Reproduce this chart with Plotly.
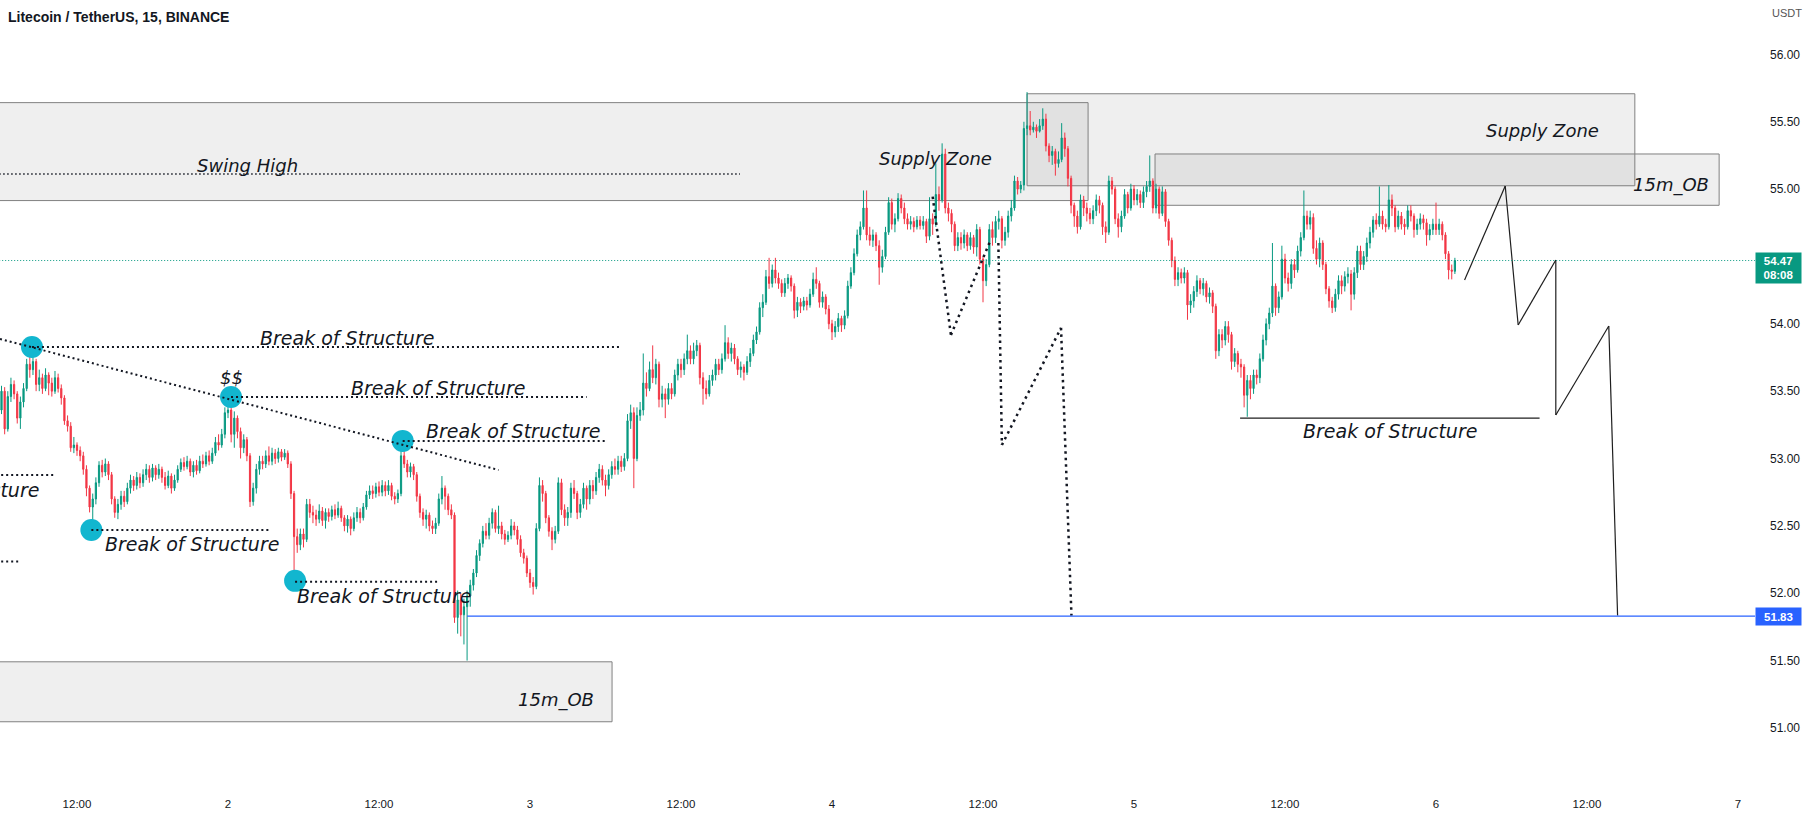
import pandas as pd
import plotly.graph_objects as go

# ---------------- data (15-minute LTC/USDT candles) ----------------
first_open = 53.45
closes = [
    53.52, 53.36,                      # 1 05:30
    53.50, 53.22, 53.46, 53.55,
    53.48, 53.30, 53.42, 53.52,
    53.70, 53.66, 53.72, 53.55,
    53.60, 53.52, 53.62, 53.56,
    53.50, 53.60, 53.52, 53.45,
    53.28, 53.24, 53.08, 53.10,
    53.06, 53.02, 52.92, 52.78,
    52.64, 52.70, 52.82, 52.95,
    52.90, 52.96, 52.88, 52.70,
    52.60, 52.66, 52.72, 52.68,
    52.78, 52.84, 52.80, 52.86,
    52.82, 52.88, 52.92, 52.86,
    52.93, 52.88, 52.92, 52.86,
    52.80, 52.87, 52.78, 52.84,
    52.92, 52.97, 52.94, 52.98,
    52.90, 52.95, 52.91, 52.98,
    52.96, 53.02, 52.98, 53.04,
    53.12, 53.10, 53.18, 53.34,
    53.36, 53.18, 53.30, 53.20,        # 2 00:00
    53.08, 53.14, 53.02, 52.68,
    52.78, 52.92, 52.98, 52.96,
    53.02, 52.98, 53.04, 53.00,
    53.05, 53.01, 53.04, 52.96,
    52.74, 52.42, 52.36, 52.44,
    52.40, 52.66, 52.60, 52.58,
    52.55, 52.61, 52.54, 52.60,
    52.57, 52.62, 52.58, 52.63,
    52.56, 52.50, 52.55, 52.48,
    52.56, 52.60, 52.56, 52.64,
    52.73, 52.76, 52.74, 52.79,
    52.75, 52.80, 52.76, 52.80,        # 2 12:00
    52.72, 52.70, 52.74, 53.02,
    52.96, 52.90, 52.94, 52.88,
    52.72, 52.60, 52.55, 52.58,
    52.50, 52.48, 52.52, 52.70,
    52.78, 52.72, 52.62, 52.58,
    51.82, 51.95, 51.84, 51.90,
    51.98, 52.06, 52.15, 52.28,
    52.37, 52.46, 52.43, 52.52,
    52.60, 52.48, 52.50, 52.44,
    52.40, 52.43, 52.50, 52.47,
    52.40, 52.30, 52.26, 52.15,
    52.08, 52.05, 52.48, 52.80,        # 3 00:00
    52.74, 52.56, 52.46, 52.40,
    52.46, 52.82, 52.62, 52.56,
    52.60, 52.78, 52.74, 52.60,
    52.66, 52.78, 52.70, 52.80,
    52.76, 52.86, 52.92, 52.84,
    52.80, 52.88, 52.94, 52.92,
    52.98, 52.94, 53.00, 53.28,
    53.34, 53.00, 53.32, 53.36,
    53.56, 53.52, 53.66, 53.60,
    53.70, 53.44, 53.48, 53.44,
    53.52, 53.48, 53.62, 53.70,
    53.66, 53.74, 53.80, 53.74,        # 3 12:00
    53.80, 53.84, 53.60, 53.52,
    53.48, 53.58, 53.62, 53.70,
    53.66, 53.74, 53.86, 53.78,
    53.82, 53.74, 53.66, 53.68,
    53.64, 53.72, 53.78, 53.88,
    53.94, 54.12, 54.16, 54.35,
    54.30, 54.40, 54.34, 54.30,
    54.23, 54.30, 54.34, 54.28,
    54.10, 54.16, 54.13, 54.17,
    54.14, 54.22, 54.33, 54.30,
    54.16, 54.20, 54.11, 54.00,
    53.94, 53.98, 54.04, 53.99,        # 4 00:00
    54.06, 54.28, 54.38, 54.52,
    54.66, 54.72, 54.86, 54.66,
    54.62, 54.66, 54.58, 54.42,
    54.50, 54.68, 54.90, 54.74,
    54.78, 54.93, 54.86, 54.78,
    54.74, 54.76, 54.72, 54.77,
    54.73, 54.76, 54.65, 54.78,
    54.74, 54.96, 54.92, 55.26,
    54.86, 54.82, 54.74, 54.58,
    54.64, 54.60, 54.66, 54.58,
    54.64, 54.57, 54.70, 54.48,
    54.32, 54.44, 54.70, 54.64,        # 4 12:00
    54.76, 54.78, 54.62, 54.68,
    54.80, 54.86, 55.06, 55.00,
    55.03, 55.45, 55.47, 55.44,
    55.46, 55.43, 55.47, 55.52,
    55.32, 55.25, 55.28, 55.19,
    55.22, 55.38, 55.30, 55.08,
    54.88, 54.80, 54.72, 54.92,
    54.86, 54.82, 54.78, 54.84,
    54.92, 54.88, 54.72, 54.68,
    55.06, 55.00, 54.78, 54.72,
    54.80, 54.96, 54.86, 55.00,
    54.92, 54.96, 54.90, 54.98,        # 5 00:00
    55.02, 55.06, 54.86, 55.00,
    54.82, 54.98, 54.76, 54.62,
    54.47, 54.33, 54.38, 54.34,
    54.38, 54.14, 54.17, 54.24,
    54.32, 54.26, 54.30, 54.20,
    54.23, 54.13, 53.80, 53.92,
    53.88, 53.98, 53.92, 53.72,
    53.78, 53.70, 53.68, 53.47,
    53.58, 53.52, 53.62, 53.60,
    53.74, 53.88, 54.00, 54.08,
    54.28, 54.12, 54.20, 54.48,
    54.34, 54.30, 54.44, 54.40,        # 5 12:00
    54.54, 54.64, 54.80, 54.74,
    54.79, 54.56, 54.48, 54.60,
    54.44, 54.26, 54.17, 54.12,
    54.22, 54.32, 54.28, 54.35,
    54.37, 54.22, 54.38, 54.54,
    54.44, 54.50, 54.60, 54.68,
    54.77, 54.74, 54.80, 54.74,
    54.72, 54.92, 54.86, 54.72,
    54.80, 54.74, 54.72, 54.84,
    54.80, 54.70, 54.74, 54.78,
    54.75, 54.66, 54.70, 54.74,
    54.70, 54.74, 54.66, 54.52,        # 6 00:00
    54.40, 54.39, 54.47,
]
highs = [
    53.56, 53.55,
    53.54, 53.53, 53.50, 53.60,
    53.58, 53.50, 53.46, 53.56,
    53.74, 53.83, 53.80, 53.74,
    53.66, 53.63, 53.67, 53.64,
    53.60, 53.65, 53.63, 53.55,
    53.47, 53.32, 53.27, 53.16,
    53.12, 53.09, 53.05, 52.95,
    52.80, 52.74, 52.86, 52.98,
    52.99, 53.00, 52.98, 52.90,
    52.72, 52.70, 52.76, 52.76,
    52.82, 52.88, 52.87, 52.90,
    52.89, 52.92, 52.96, 52.95,
    52.96, 52.95, 52.96, 52.94,
    52.90, 52.91, 52.89, 52.88,
    52.95, 53.00, 53.01, 53.02,
    53.00, 52.98, 52.99, 53.02,
    53.03, 53.05, 53.06, 53.08,
    53.16, 53.18, 53.22, 53.38,
    53.46, 53.44, 53.35, 53.32,
    53.23, 53.18, 53.16, 53.04,
    52.82, 52.96, 53.02, 53.02,
    53.06, 53.09, 53.08, 53.07,
    53.08, 53.07, 53.07, 53.06,
    52.98, 52.76, 52.48, 52.48,
    52.48, 52.70, 52.70, 52.65,
    52.62, 52.66, 52.64, 52.63,
    52.63, 52.65, 52.66, 52.68,
    52.65, 52.58, 52.58, 52.57,
    52.60, 52.64, 52.63, 52.67,
    52.76, 52.80, 52.80, 52.82,
    52.83, 52.84, 52.83, 52.84,
    52.82, 52.75, 52.77, 53.13,
    53.10, 52.99, 52.97, 52.96,
    52.90, 52.74, 52.63, 52.62,
    52.60, 52.54, 52.56, 52.74,
    52.87, 52.80, 52.74, 52.66,
    52.60, 52.02, 52.00, 51.96,
    52.02, 52.10, 52.18, 52.32,
    52.40, 52.50, 52.52, 52.56,
    52.63, 52.62, 52.65, 52.53,
    52.47, 52.46, 52.55, 52.53,
    52.50, 52.43, 52.33, 52.28,
    52.18, 52.12, 52.52, 52.86,
    52.84, 52.76, 52.58, 52.49,
    52.50, 52.86, 52.85, 52.66,
    52.64, 52.82, 52.84, 52.76,
    52.70, 52.82, 52.80, 52.84,
    52.84, 52.90, 52.96, 52.95,
    52.88, 52.92, 52.98, 53.00,
    53.02, 53.02, 53.04, 53.33,
    53.40, 53.38, 53.38, 53.42,
    53.78, 53.64, 53.72, 53.84,
    53.74, 53.72, 53.54, 53.52,
    53.56, 53.56, 53.66, 53.74,
    53.74, 53.78, 53.92, 53.84,
    53.86, 53.88, 53.86, 53.64,
    53.58, 53.62, 53.66, 53.74,
    53.74, 53.78, 53.99, 53.90,
    53.86, 53.85, 53.76, 53.72,
    53.70, 53.76, 53.82, 53.92,
    53.98, 54.16, 54.22, 54.40,
    54.49, 54.44, 54.49, 54.38,
    54.33, 54.34, 54.37, 54.36,
    54.30, 54.20, 54.19, 54.20,
    54.20, 54.26, 54.38, 54.42,
    54.32, 54.24, 54.22, 54.14,
    54.03, 54.02, 54.08, 54.06,
    54.10, 54.32, 54.42, 54.56,
    54.70, 54.76, 54.99, 54.99,
    54.72, 54.70, 54.68, 54.62,
    54.55, 54.72, 54.94, 54.93,
    54.82, 54.97, 54.96, 54.90,
    54.82, 54.80, 54.79, 54.80,
    54.80, 54.80, 54.78, 54.94,
    54.82, 55.19, 55.02, 55.34,
    55.30, 54.90, 54.85, 54.76,
    54.68, 54.68, 54.70, 54.68,
    54.68, 54.66, 54.74, 54.72,
    54.50, 54.48, 54.74, 54.76,
    54.80, 54.84, 54.80, 54.72,
    54.84, 54.92, 55.10, 55.09,
    55.06, 55.50, 55.72, 55.58,
    55.50, 55.48, 55.52, 55.60,
    55.56, 55.34, 55.32, 55.30,
    55.28, 55.49, 55.42, 55.32,
    55.10, 54.90, 54.84, 54.96,
    54.95, 54.90, 54.86, 54.88,
    54.96, 54.95, 54.90, 54.76,
    55.10, 55.09, 55.02, 54.82,
    54.84, 55.00, 54.98, 55.04,
    55.03, 55.00, 54.99, 55.02,
    55.06, 55.25, 55.08, 55.04,
    55.02, 55.02, 55.00, 54.78,
    54.64, 54.50, 54.42, 54.41,
    54.42, 54.40, 54.22, 54.28,
    54.36, 54.34, 54.34, 54.32,
    54.27, 54.25, 54.15, 53.96,
    53.96, 54.02, 54.02, 53.94,
    53.82, 53.80, 53.74, 53.70,
    53.62, 53.62, 53.66, 53.66,
    53.78, 53.92, 54.04, 54.12,
    54.60, 54.30, 54.24, 54.58,
    54.52, 54.38, 54.48, 54.48,
    54.58, 54.68, 54.99, 54.84,
    54.84, 54.82, 54.62, 54.64,
    54.62, 54.46, 54.28, 54.20,
    54.26, 54.36, 54.36, 54.39,
    54.42, 54.40, 54.42, 54.58,
    54.58, 54.54, 54.64, 54.72,
    54.80, 54.82, 55.02, 54.84,
    54.78, 55.03, 54.96, 54.88,
    54.84, 54.83, 54.78, 54.88,
    54.88, 54.82, 54.78, 54.82,
    54.81, 54.78, 54.74, 54.78,
    54.90, 54.78, 54.76, 54.68,
    54.54, 54.44, 54.49,
]
lows = [
    53.40, 53.30,
    53.33, 53.18, 53.20, 53.42,
    53.44, 53.26, 53.22, 53.38,
    53.50, 53.60, 53.62, 53.50,
    53.50, 53.48, 53.50, 53.47,
    53.46, 53.48, 53.49, 53.40,
    53.25, 53.20, 53.05, 53.04,
    53.02, 52.98, 52.88, 52.72,
    52.60, 52.46, 52.66, 52.79,
    52.86, 52.87, 52.84, 52.66,
    52.56, 52.55, 52.62, 52.64,
    52.66, 52.74, 52.76, 52.77,
    52.78, 52.79, 52.84, 52.82,
    52.83, 52.84, 52.85, 52.82,
    52.77, 52.78, 52.74, 52.76,
    52.82, 52.90, 52.91, 52.92,
    52.87, 52.86, 52.88, 52.89,
    52.93, 52.94, 52.95, 52.96,
    53.02, 53.06, 53.08, 53.15,
    53.30, 53.12, 53.08, 53.15,
    53.00, 53.04, 52.98, 52.64,
    52.65, 52.74, 52.88, 52.92,
    52.93, 52.95, 52.95, 52.96,
    52.97, 52.98, 52.99, 52.93,
    52.70, 52.10, 52.30, 52.32,
    52.34, 52.38, 52.56, 52.52,
    52.50, 52.52, 52.50, 52.48,
    52.53, 52.54, 52.55, 52.56,
    52.53, 52.46, 52.45, 52.43,
    52.46, 52.53, 52.52, 52.54,
    52.62, 52.70, 52.70, 52.71,
    52.72, 52.72, 52.72, 52.73,
    52.69, 52.66, 52.67, 52.72,
    52.93, 52.86, 52.86, 52.84,
    52.68, 52.56, 52.50, 52.48,
    52.46, 52.44, 52.44, 52.50,
    52.66, 52.62, 52.58, 52.55,
    51.78, 51.70, 51.68, 51.62,
    51.50, 51.90, 52.02, 52.12,
    52.24, 52.34, 52.40, 52.40,
    52.48, 52.45, 52.44, 52.40,
    52.36, 52.38, 52.40, 52.43,
    52.36, 52.27, 52.22, 52.12,
    52.04, 51.99, 52.03, 52.46,
    52.68, 52.52, 52.42, 52.32,
    52.37, 52.44, 52.58, 52.50,
    52.50, 52.56, 52.70, 52.55,
    52.56, 52.63, 52.62, 52.66,
    52.70, 52.73, 52.82, 52.80,
    52.72, 52.77, 52.85, 52.88,
    52.88, 52.90, 52.91, 52.98,
    53.22, 52.78, 52.98, 53.28,
    53.32, 53.46, 53.50, 53.56,
    53.55, 53.38, 53.38, 53.30,
    53.40, 53.44, 53.46, 53.58,
    53.60, 53.62, 53.70, 53.70,
    53.70, 53.76, 53.55, 53.40,
    53.44, 53.46, 53.54, 53.58,
    53.62, 53.63, 53.72, 53.74,
    53.72, 53.70, 53.62, 53.60,
    53.58, 53.62, 53.68, 53.76,
    53.85, 53.92, 54.05, 54.14,
    54.26, 54.27, 54.30, 54.26,
    54.20, 54.20, 54.26, 54.24,
    54.04, 54.05, 54.08, 54.10,
    54.10, 54.12, 54.20, 54.26,
    54.12, 54.12, 54.07, 53.96,
    53.88, 53.90, 53.94, 53.94,
    53.96, 54.04, 54.26, 54.36,
    54.50, 54.62, 54.70, 54.62,
    54.58, 54.57, 54.54, 54.29,
    54.38, 54.48, 54.66, 54.70,
    54.68, 54.76, 54.82, 54.74,
    54.70, 54.70, 54.68, 54.70,
    54.70, 54.70, 54.60, 54.62,
    54.66, 54.72, 54.84, 54.90,
    54.82, 54.76, 54.68, 54.54,
    54.54, 54.55, 54.56, 54.54,
    54.55, 54.52, 54.50, 54.44,
    54.16, 54.28, 54.42, 54.58,
    54.60, 54.70, 54.56, 54.58,
    54.64, 54.76, 54.84, 54.96,
    54.97, 54.99, 55.40, 55.40,
    55.42, 55.38, 55.42, 55.44,
    55.28, 55.20, 55.18, 55.10,
    55.16, 55.20, 55.24, 55.02,
    54.82, 54.72, 54.67, 54.70,
    54.80, 54.76, 54.74, 54.74,
    54.80, 54.82, 54.66, 54.60,
    54.66, 54.96, 54.74, 54.64,
    54.68, 54.78, 54.82, 54.84,
    54.88, 54.88, 54.86, 54.86,
    54.94, 54.98, 54.82, 54.82,
    54.78, 54.80, 54.72, 54.58,
    54.42, 54.28, 54.28, 54.30,
    54.30, 54.03, 54.08, 54.12,
    54.20, 54.22, 54.21, 54.16,
    54.15, 54.08, 53.74, 53.76,
    53.82, 53.84, 53.86, 53.66,
    53.68, 53.64, 53.60, 53.38,
    53.31, 53.44, 53.48, 53.55,
    53.56, 53.72, 53.84, 53.96,
    54.05, 54.06, 54.08, 54.18,
    54.30, 54.24, 54.26, 54.34,
    54.38, 54.50, 54.62, 54.70,
    54.70, 54.52, 54.44, 54.42,
    54.40, 54.22, 54.12, 54.08,
    54.09, 54.18, 54.22, 54.24,
    54.30, 54.10, 54.18, 54.34,
    54.40, 54.40, 54.46, 54.56,
    54.64, 54.70, 54.72, 54.70,
    54.68, 54.70, 54.80, 54.68,
    54.70, 54.70, 54.66, 54.70,
    54.76, 54.64, 54.66, 54.70,
    54.70, 54.58, 54.62, 54.66,
    54.66, 54.66, 54.62, 54.48,
    54.33, 54.33, 54.37,
]
opens = [first_open] + closes[:-1]

last_price = 54.47
countdown = "08:08"
target_price = 51.83

# 54.50 is hidden behind the last-price label on the scale
price_ticks = [51.0, 51.5, 52.0, 52.5, 53.0, 53.5, 54.0, 55.0, 55.5, 56.0]
price_tick_labels = ["51.00", "51.50", "52.00", "52.50", "53.00", "53.50",
                     "54.00", "55.00", "55.50", "56.00"]
time_tick_hours = [-12, 0, 12, 24, 36, 48, 60, 72, 84, 96, 108, 120]
time_tick_labels = ["12:00", "2", "12:00", "3", "12:00", "4",
                    "12:00", "5", "12:00", "6", "12:00", "7"]

# ---------------- helpers ----------------
base = pd.Timestamp("2022-07-02 00:00")


def T(h):
    return base + pd.Timedelta(hours=h)


times = pd.date_range(T(-18.5), periods=len(closes), freq="15min")

GREEN = "#089981"
RED = "#f23645"
TXT = "#131722"
TEXT_FONT = dict(family="DejaVu Sans", size=18, color=TXT, style="italic")
BOS_FONT = dict(family="DejaVu Sans", size=19, color=TXT, style="italic")

fig = go.Figure()

fig.add_trace(go.Candlestick(
    x=times, open=opens, high=highs, low=lows, close=closes,
    increasing=dict(line=dict(color=GREEN, width=1), fillcolor=GREEN),
    decreasing=dict(line=dict(color=RED, width=1), fillcolor=RED),
    whiskerwidth=0, hoverinfo="skip", showlegend=False,
))

shapes = []

# zones (gray rectangles)
BOX_FILL = "rgba(120,120,120,0.12)"
BOX_LINE = dict(color="#808080", width=1)
for (h0, h1, p0, p1) in [
    (-22, 68.35, 54.915, 55.642),    # swing-high zone
    (63.5, 111.8, 55.025, 55.708),   # supply zone
    (73.67, 118.5, 54.880, 55.261),  # 15m_OB right
    (-22, 30.52, 51.046, 51.491),    # 15m_OB bottom-left
]:
    shapes.append(dict(type="rect", xref="x", yref="y", x0=T(h0), x1=T(h1),
                       y0=p0, y1=p1, fillcolor=BOX_FILL, line=BOX_LINE, layer="below"))


def seg(h0, p0, h1, p1, color="#131722", width=2, dash="2px,3px"):
    shapes.append(dict(type="line", xref="x", yref="y", x0=T(h0), y0=p0, x1=T(h1), y1=p1,
                       line=dict(color=color, width=width, dash=dash)))


# swing high dotted line
seg(-22, 55.112, 40.69, 55.112, width=1.5, dash="1.5px,2.5px")
# break of structure dotted lines
seg(-15.58, 53.828, 31.07, 53.828)
seg(0.24, 53.457, 28.5, 53.457)
seg(13.88, 53.131, 30.15, 53.131)
seg(-10.86, 52.470, 3.31, 52.470)
seg(5.33, 52.085, 16.77, 52.085)
seg(-22, 52.878, -13.8, 52.878)
seg(-22, 52.236, -16.55, 52.236)
# descending trend line
seg(-18.12, 53.888, 21.5, 52.915)
# projected path (dotted)
seg(56.0, 54.944, 57.45, 53.917, width=2.5, dash="2.5px,4px")
seg(57.45, 53.917, 60.55, 54.61, width=2.5, dash="2.5px,4px")
seg(61.22, 54.60, 61.5, 53.10, width=2.5, dash="2.5px,4px")
seg(61.5, 53.10, 66.2, 53.97, width=2.5, dash="2.5px,4px")
seg(66.2, 53.97, 67.03, 51.834, width=2.5, dash="2.5px,4px")
# projected path (solid, right)
path_pts = [(98.27, 54.325), (101.5, 55.023), (102.53, 53.991), (105.52, 54.474),
            (105.52, 53.323), (109.73, 53.984), (110.43, 51.834)]
for (a, b) in zip(path_pts[:-1], path_pts[1:]):
    seg(a[0], a[1], b[0], b[1], color="#1e1e1e", width=1.2, dash="solid")
# right break of structure
seg(80.43, 53.30, 104.23, 53.30, color="#1e1e1e", width=1.2, dash="solid")
# target horizontal line (blue)
seg(19.0, target_price, 130, target_price, color="#2962ff", width=1.1, dash="solid")
# last price line
seg(-22, last_price, 130, last_price, color=GREEN, width=1, dash="1px,2px")

# circles on swing points
fig.add_trace(go.Scatter(
    x=[T(-15.58), T(0.24), T(13.88), T(-10.86), T(5.33)],
    y=[53.828, 53.457, 53.131, 52.470, 52.092],
    mode="markers", marker=dict(size=22, color="#12b6cf", line=dict(width=0)),
    hoverinfo="skip", showlegend=False,
))

annotations = []


def label(text, h, p, xanchor="center", font=TEXT_FONT):
    annotations.append(dict(text=text, x=T(h), y=p, xref="x", yref="y",
                            xanchor=xanchor, yanchor="middle", showarrow=False,
                            font=font))


label("Swing High", 1.51, 55.175)
label("Break of Structure", 9.43, 53.896, font=BOS_FONT)
label("Break of Structure", 16.69, 53.526, font=BOS_FONT)
label("Break of Structure", 22.68, 53.208, font=BOS_FONT)
label("Break of Structure", -2.84, 52.367, font=BOS_FONT)
label("Break of Structure", 12.42, 51.98, font=BOS_FONT)
label("Break of Structure", -14.9, 52.77, xanchor="right", font=BOS_FONT)
label("$$", 0.24, 53.60)
label("Supply Zone", 56.2, 55.227)
label("Supply Zone", 104.5, 55.434)
label("15m_OB", 114.7, 55.03)
label("15m_OB", 26.04, 51.207)
label("Break of Structure", 92.35, 53.208, font=BOS_FONT)

# title
annotations.append(dict(text="Litecoin / TetherUS, 15, BINANCE", xref="paper", yref="paper",
                        x=0, y=1, xanchor="left", yanchor="top", xshift=6, yshift=-7,
                        showarrow=False,
                        font=dict(family="Liberation Sans", size=14, color=TXT, weight="bold")))
# axis currency
annotations.append(dict(text="USDT", xref="paper", yref="paper", x=1, y=1,
                        xanchor="left", yanchor="top", xshift=15, yshift=-5, showarrow=False,
                        font=dict(family="Liberation Sans", size=11, color="#555")))
# price labels on the scale
annotations.append(dict(text=f"{last_price:.2f}<br>{countdown}", xref="paper", yref="y",
                        x=1, y=last_price, xanchor="left", yanchor="middle", yshift=-7,
                        showarrow=False, bgcolor=GREEN, width=43, height=28, borderpad=1,
                        align="center",
                        font=dict(family="Liberation Sans", size=11.5, color="white", weight="bold")))
annotations.append(dict(text=f"{target_price:.2f}", xref="paper", yref="y",
                        x=1, y=target_price, xanchor="left", yanchor="middle",
                        showarrow=False, bgcolor="#2962ff", width=43, height=15, borderpad=1,
                        align="center",
                        font=dict(family="Liberation Sans", size=11.5, color="white", weight="bold")))

fig.update_layout(
    width=1814, height=818,
    margin=dict(l=0, r=59, t=0, b=32),
    paper_bgcolor="white", plot_bgcolor="white",
    showlegend=False, boxgap=0.45,
    shapes=shapes, annotations=annotations,
    xaxis=dict(
        type="date", range=[T(-18.12), T(121.35)],
        rangeslider=dict(visible=False),
        showgrid=False, zeroline=False, showline=False,
        tickvals=[T(h) for h in time_tick_hours], ticktext=time_tick_labels,
        ticks="", ticklabelstandoff=9,
        tickfont=dict(family="Liberation Sans", size=11.5, color=TXT),
    ),
    yaxis=dict(
        side="right", range=[50.569, 56.404],
        showgrid=False, zeroline=False, showline=False,
        tickvals=price_ticks, ticktext=price_tick_labels,
        ticks="", ticklabelstandoff=14,
        tickfont=dict(family="Liberation Sans", size=12, color=TXT),
    ),
)

fig.write_html("out.html", config={"displayModeBar": False})
